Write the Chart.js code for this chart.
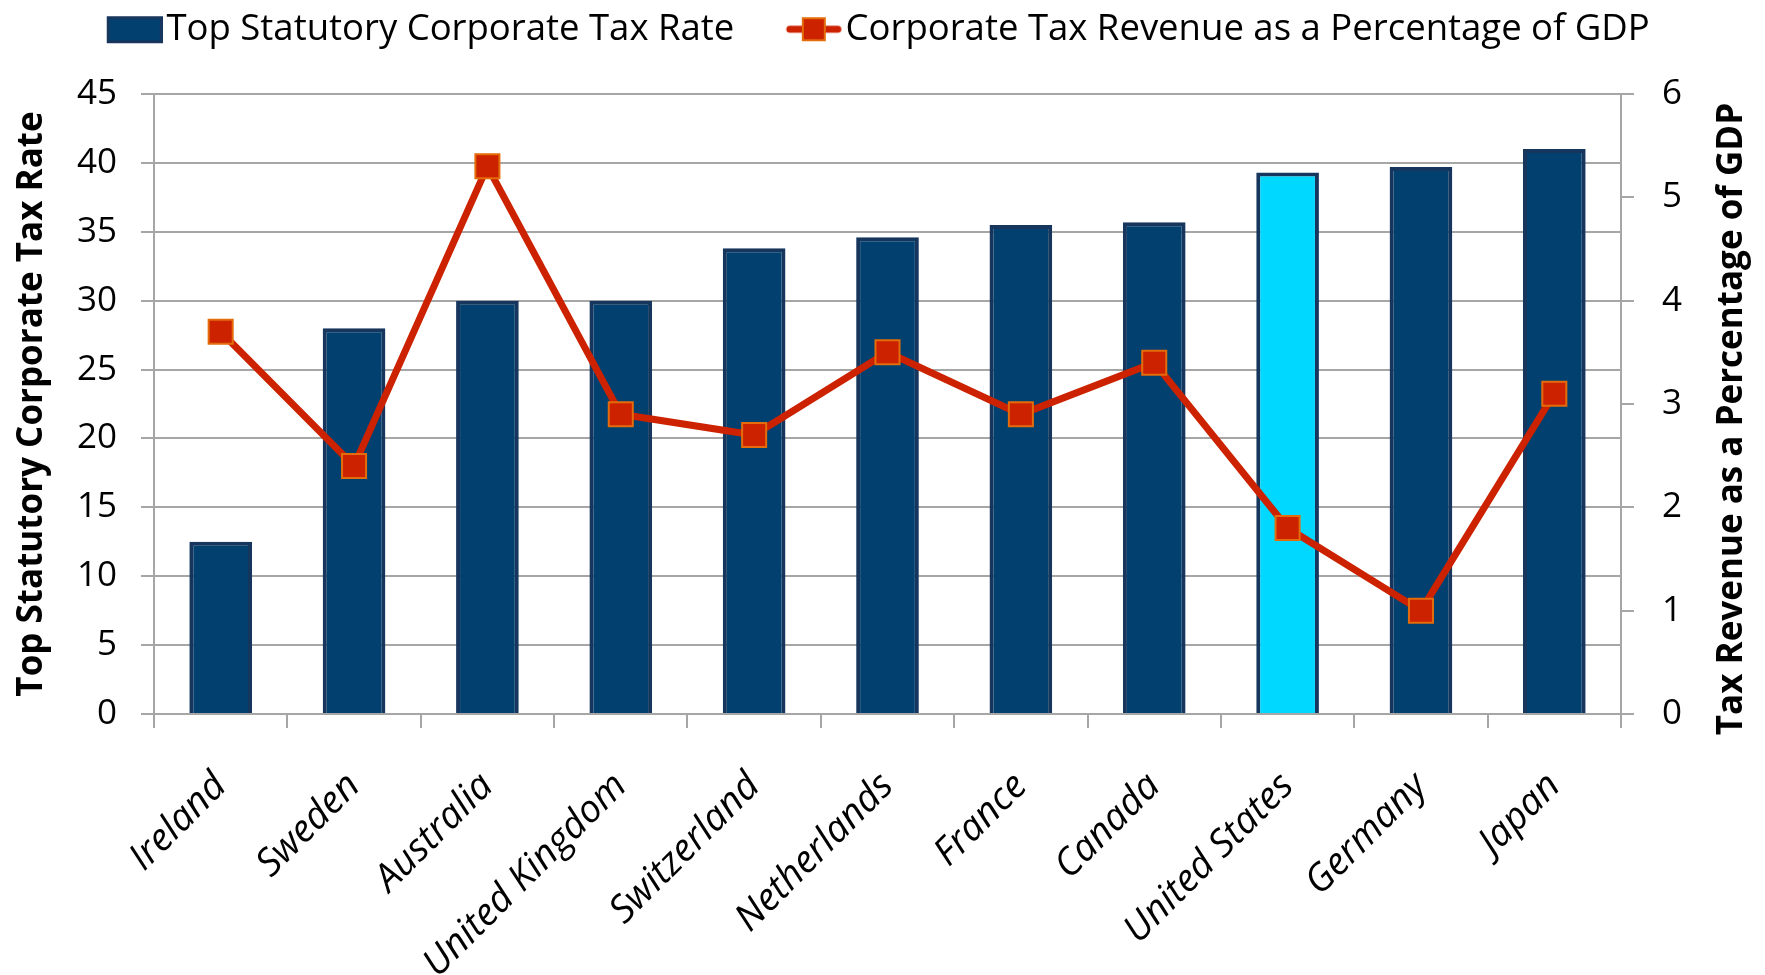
<!DOCTYPE html>
<html>
<head>
<meta charset="utf-8">
<script src="https://cdn.jsdelivr.net/npm/chart.js@4/dist/chart.umd.min.js"></script>
<style>
  html, body { margin: 0; padding: 0; background: #fff; }
  #wrap { width: 1765px; height: 975px; }
</style>
</head>
<body>
<div id="wrap"><canvas id="taxChart" width="1765" height="975"></canvas></div>
<script>
const countries = ["Ireland","Sweden","Australia","United Kingdom","Switzerland","Netherlands","France","Canada","United States","Germany","Japan"];
const statutoryRate = [12.5, 28, 30, 30, 33.8, 34.6, 35.5, 35.7, 39.3, 39.7, 41];
const revenueShareGDP = [3.7, 2.4, 5.3, 2.9, 2.7, 3.5, 2.9, 3.4, 1.8, 1.0, 3.1];
const leftTicks = { min: 0, max: 45, step: 5 };
const rightTicks = { min: 0, max: 6, step: 1 };
const rightTitle = "Tax Revenue as a Percentage of GDP";

const NAVY = "#02406f";
const NAVY_EDGE = "#17365d";
const HIGHLIGHT = "#00d8ff";
const RED = "#cc2200";
const ORANGE = "#e46c0a";
const GRID = "#a6a6a6";
const FONT = "'Open Sans', 'Liberation Sans', sans-serif";

// legend swatch slot: image is centred in the slot, so pad it on the left
const SLOT = 85;
const SWATCH_W = SLOT + 29;

function swatchCanvas(drawFn) {
  const c = document.createElement("canvas");
  c.width = SWATCH_W; c.height = 30;
  const g = c.getContext("2d");
  g.translate(SWATCH_W - 56, 0);
  drawFn(g);
  return c;
}
const barSwatch = () => swatchCanvas(g => {
  g.fillStyle = NAVY_EDGE; g.fillRect(0, 2, 56, 27);
  g.fillStyle = NAVY; g.fillRect(3, 5, 50, 21);
});
const lineSwatch = () => swatchCanvas(g => {
  g.strokeStyle = RED; g.lineWidth = 7; g.lineCap = "round";
  g.beginPath(); g.moveTo(4, 15); g.lineTo(52, 15); g.stroke();
  g.fillStyle = RED; g.fillRect(17, 4, 22, 22);
  g.strokeStyle = ORANGE; g.lineWidth = 2; g.strokeRect(17, 4, 22, 22);
});

// pull the legend up to the top edge and nudge it left
const legendNudge = {
  id: "legendNudge",
  beforeDraw(chart) {
    const lg = chart.legend;
    const h = lg.height;
    lg.top = 3; lg.bottom = 3 + h;
    lg.left -= 26; lg.right -= 26;
  },
};

// right axis title reads bottom-to-top, so draw it here
const rightTitlePlugin = {
  id: "rightTitle",
  afterDraw(chart) {
    const { ctx, chartArea } = chart;
    ctx.save();
    ctx.translate(1732, (chartArea.top + chartArea.bottom) / 2 + 15);
    ctx.rotate(-Math.PI / 2);
    ctx.font = "bold 35px " + FONT;
    ctx.fillStyle = "#000";
    ctx.textAlign = "center";
    ctx.textBaseline = "middle";
    ctx.fillText(rightTitle, 0, 0);
    ctx.restore();
  },
};

const ctx = document.getElementById("taxChart");
new Chart(ctx, {
  type: "bar",
  data: {
    labels: countries,
    datasets: [
      {
        type: "bar",
        label: "Top Statutory Corporate Tax Rate",
        data: statutoryRate,
        yAxisID: "y",
        backgroundColor: countries.map(c => c === "United States" ? HIGHLIGHT : NAVY),
        borderColor: NAVY_EDGE,
        borderWidth: 4,
        barPercentage: 0.47,
        categoryPercentage: 1,
        order: 2,
      },
      {
        type: "line",
        label: "Corporate Tax Revenue as a Percentage of GDP",
        data: revenueShareGDP,
        yAxisID: "y1",
        borderColor: RED,
        borderWidth: 7,
        pointStyle: "rect",
        pointRadius: 17,
        pointBackgroundColor: RED,
        pointBorderColor: ORANGE,
        pointBorderWidth: 2,
        tension: 0,
        order: 1,
      },
    ],
  },
  plugins: [legendNudge, rightTitlePlugin],
  options: {
    responsive: false,
    animation: false,
    layout: { padding: 0 },
    plugins: {
      tooltip: { enabled: false },
      legend: {
        position: "top",
        labels: {
          usePointStyle: true,
          pointStyleWidth: SLOT,
          padding: 8,
          color: "#000",
          font: { family: FONT, size: 36.5 },
          generateLabels: chart => chart.data.datasets.map((ds, i) => ({
            text: ds.label,
            datasetIndex: i,
            pointStyle: i === 0 ? barSwatch() : lineSwatch(),
            fillStyle: "transparent",
            strokeStyle: "transparent",
            lineWidth: 0,
            fontColor: "#000",
          })),
        },
      },
    },
    scales: {
      x: {
        afterFit: s => { s.height = 261; },
        grid: { offset: true, drawOnChartArea: false, color: GRID, lineWidth: 2, tickLength: 14 },
        border: { color: GRID, width: 2 },
        ticks: {
          minRotation: 45, maxRotation: 45, autoSkip: false, padding: 36,
          color: "#000",
          font: { family: FONT, size: 38, style: "italic" },
        },
      },
      y: {
        position: "left",
        min: leftTicks.min, max: leftTicks.max,
        afterFit: s => { s.width = 154; s.paddingTop = 94; },
        grid: { color: GRID, lineWidth: 2, tickLength: 13 },
        border: { color: GRID, width: 2 },
        ticks: { stepSize: leftTicks.step, padding: 24, color: "#000", font: { family: FONT, size: 35 } },
        title: {
          display: true, text: "Top Statutory Corporate Tax Rate", color: "#000",
          font: { family: FONT, size: 35, weight: "bold" }, padding: { top: 11, bottom: 0 },
        },
      },
      y1: {
        position: "right",
        min: rightTicks.min, max: rightTicks.max,
        afterFit: s => { s.width = 144; },
        grid: { drawOnChartArea: false, color: GRID, lineWidth: 2, tickLength: 13 },
        border: { color: GRID, width: 2 },
        ticks: { stepSize: rightTicks.step, padding: 28, color: "#000", font: { family: FONT, size: 35 } },
      },
    },
  },
});
</script>
</body>
</html>
